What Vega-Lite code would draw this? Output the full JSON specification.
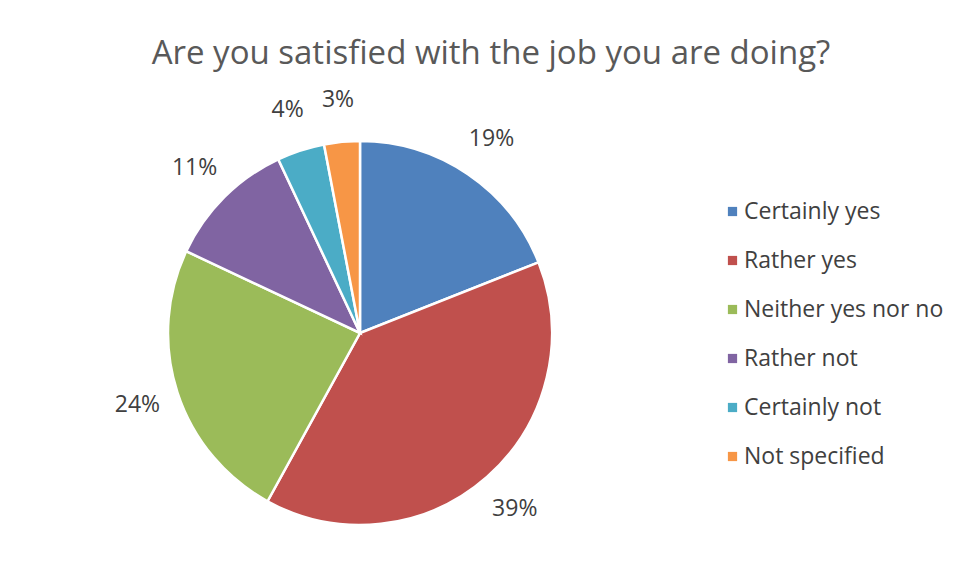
{
  "$schema": "https://vega.github.io/schema/vega-lite/v6.json",
  "autosize": {"type": "none"},
  "width": 720,
  "height": 498,
  "padding": {"left": 0, "top": 84, "right": 239, "bottom": 0},
  "background": "white",
  "title": {
    "text": "Are you satisfied with the job you are doing?",
    "font": "Open Sans",
    "fontSize": 33,
    "fontWeight": "normal",
    "color": "#595959",
    "anchor": "middle",
    "dx": 131,
    "offset": 13
  },
  "data": {
    "values": [
      {"Response": "Certainly yes", "Share": 0.19, "Order": 1},
      {"Response": "Rather yes", "Share": 0.39, "Order": 2},
      {"Response": "Neither yes nor no", "Share": 0.24, "Order": 3},
      {"Response": "Rather not", "Share": 0.11, "Order": 4},
      {"Response": "Certainly not", "Share": 0.04, "Order": 5},
      {"Response": "Not specified", "Share": 0.03, "Order": 6}
    ]
  },
  "encoding": {
    "theta": {"field": "Share", "type": "quantitative", "stack": true},
    "order": {"field": "Order", "type": "quantitative"},
    "color": {
      "field": "Response",
      "type": "nominal",
      "sort": null,
      "scale": {
        "domain": ["Certainly yes", "Rather yes", "Neither yes nor no", "Rather not", "Certainly not", "Not specified"],
        "range": ["#4F81BD", "#C0504D", "#9BBB59", "#8064A2", "#4BACC6", "#F79646"]
      },
      "legend": {
        "orient": "none",
        "legendX": 721,
        "legendY": 116,
        "title": null,
        "symbolType": "square",
        "symbolSize": 85,
        "symbolStrokeWidth": 0,
        "labelFont": "Open Sans",
        "labelFontSize": 23,
        "labelColor": "#404040",
        "rowPadding": 25,
        "labelOffset": 0,
        "labelLimit": 300
      }
    }
  },
  "layer": [
    {
      "mark": {"type": "arc", "outerRadius": 192, "stroke": "white", "strokeWidth": 2.5}
    },
    {
      "mark": {"type": "text", "radius": 234, "font": "Open Sans", "fontSize": 23, "fill": "#404040"},
      "encoding": {
        "text": {"field": "Share", "type": "quantitative", "format": ".0%"},
        "color": {"value": "#404040"}
      }
    }
  ]
}
